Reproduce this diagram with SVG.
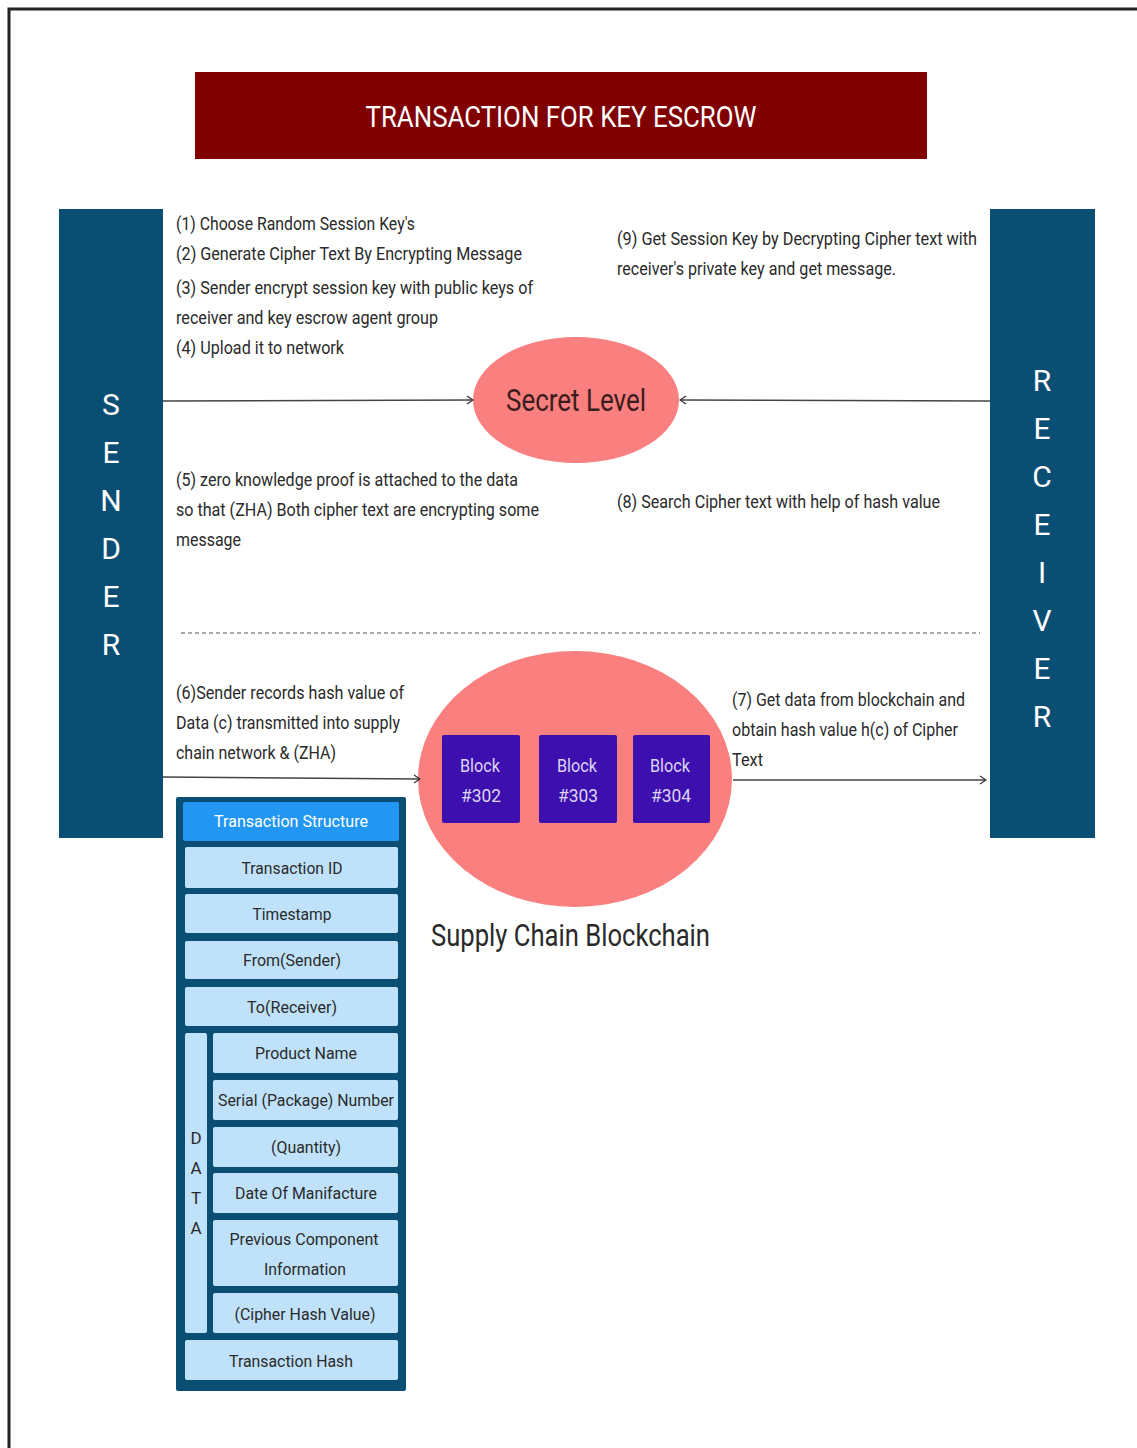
<svg xmlns="http://www.w3.org/2000/svg" width="1137" height="1448" viewBox="0 0 1137 1448">
<style>
.t{font-family:Roboto,"Liberation Sans",sans-serif;font-size:18px;fill:#2a2a2a}
.big{font-family:Roboto,"Liberation Sans",sans-serif;font-size:31px;fill:#2a2a2a}
.side{font-family:Roboto,"Liberation Sans",sans-serif;font-size:30px;fill:#ffffff;text-anchor:middle}
.row{fill:#bfe2fa}
.rt{font-family:Roboto,"Liberation Sans",sans-serif;font-size:17px;fill:#2a2a2a;text-anchor:middle}
.blk{fill:#3c0fae}
.bt{font-family:Roboto,"Liberation Sans",sans-serif;font-size:18px;fill:#ddd5f5;text-anchor:middle}
.conn{stroke:#444;stroke-width:1.6;fill:none}
</style>
<defs>
<marker id="arr" viewBox="0 0 8 10" refX="7" refY="5" markerWidth="8" markerHeight="10" markerUnits="userSpaceOnUse" orient="auto">
<path d="M1,1 L7,5 L1,9" fill="none" stroke="#333" stroke-width="1.3"/>
</marker>
</defs>
<rect width="1137" height="1448" fill="#ffffff"/>
<rect x="9" y="9" width="1140" height="1460" fill="none" stroke="#222" stroke-width="3"/>

<g id="title">
<rect x="195" y="72" width="732" height="87" fill="#800000"/>
<text x="561" y="127" font-family="Roboto,'Liberation Sans',sans-serif" font-size="30" fill="#ffffff" text-anchor="middle" textLength="391" lengthAdjust="spacingAndGlyphs">TRANSACTION FOR KEY ESCROW</text>
</g>

<g id="sender">
<rect x="59" y="209" width="104" height="629" fill="#0b4e74"/>
<text class="side" x="111" y="415">S</text>
<text class="side" x="111" y="463">E</text>
<text class="side" x="111" y="511">N</text>
<text class="side" x="111" y="559">D</text>
<text class="side" x="111" y="607">E</text>
<text class="side" x="111" y="655">R</text>
</g>

<g id="receiver">
<rect x="990" y="209" width="105" height="629" fill="#0b4e74"/>
<text class="side" x="1042" y="391">R</text>
<text class="side" x="1042" y="439">E</text>
<text class="side" x="1042" y="487">C</text>
<text class="side" x="1042" y="535">E</text>
<text class="side" x="1042" y="583">I</text>
<text class="side" x="1042" y="631">V</text>
<text class="side" x="1042" y="679">E</text>
<text class="side" x="1042" y="727">R</text>
</g>

<g id="steps-1-4">
<text class="t" x="176" y="230" textLength="239" lengthAdjust="spacingAndGlyphs">(1) Choose Random Session Key's</text>
<text class="t" x="176" y="260" textLength="346" lengthAdjust="spacingAndGlyphs">(2) Generate Cipher Text By Encrypting Message</text>
<text class="t" x="176" y="294" textLength="357" lengthAdjust="spacingAndGlyphs">(3) Sender encrypt session key with public keys of</text>
<text class="t" x="176" y="324" textLength="262" lengthAdjust="spacingAndGlyphs">receiver and key escrow agent group</text>
<text class="t" x="176" y="354" textLength="168" lengthAdjust="spacingAndGlyphs">(4) Upload it to network</text>
</g>

<g id="step-9">
<text class="t" x="617" y="245" textLength="360" lengthAdjust="spacingAndGlyphs">(9) Get Session Key by Decrypting Cipher text with</text>
<text class="t" x="617" y="275" textLength="279" lengthAdjust="spacingAndGlyphs">receiver's private key and get message.</text>
</g>

<g id="secret-level">
<ellipse cx="576" cy="400" rx="103" ry="63" fill="#fa7f7f"/>
<text class="big" x="576" y="411" text-anchor="middle" textLength="140" lengthAdjust="spacingAndGlyphs" style="fill:#3a1c1c">Secret Level</text>
</g>

<g id="step-5">
<text class="t" x="176" y="486" textLength="342" lengthAdjust="spacingAndGlyphs">(5) zero knowledge proof is attached to the data</text>
<text class="t" x="176" y="516" textLength="363" lengthAdjust="spacingAndGlyphs">so that (ZHA) Both cipher text are encrypting some</text>
<text class="t" x="176" y="546" textLength="65" lengthAdjust="spacingAndGlyphs">message</text>
</g>

<g id="step-8">
<text class="t" x="617" y="508" textLength="323" lengthAdjust="spacingAndGlyphs">(8) Search Cipher text with help of hash value</text>
</g>

<g id="step-6">
<text class="t" x="176" y="699" textLength="228" lengthAdjust="spacingAndGlyphs">(6)Sender records hash value of</text>
<text class="t" x="176" y="729" textLength="224" lengthAdjust="spacingAndGlyphs">Data (c) transmitted into supply</text>
<text class="t" x="176" y="759" textLength="160" lengthAdjust="spacingAndGlyphs">chain network &amp; (ZHA)</text>
</g>

<g id="step-7">
<text class="t" x="732" y="706" textLength="233" lengthAdjust="spacingAndGlyphs">(7) Get data from blockchain and</text>
<text class="t" x="732" y="736" textLength="226" lengthAdjust="spacingAndGlyphs">obtain hash value h(c) of Cipher</text>
<text class="t" x="732" y="766" textLength="31" lengthAdjust="spacingAndGlyphs">Text</text>
</g>

<g id="blockchain">
<ellipse cx="575" cy="779" rx="157" ry="128" fill="#fa7f7f"/>
<rect class="blk" x="442" y="735" width="78" height="88" rx="2"/>
<rect class="blk" x="539" y="735" width="78" height="88" rx="2"/>
<rect class="blk" x="633" y="735" width="77" height="88" rx="2"/>
<text class="bt" x="480" y="772" textLength="40" lengthAdjust="spacingAndGlyphs">Block</text>
<text class="bt" x="481" y="802" textLength="40" lengthAdjust="spacingAndGlyphs">#302</text>
<text class="bt" x="577" y="772" textLength="40" lengthAdjust="spacingAndGlyphs">Block</text>
<text class="bt" x="578" y="802" textLength="40" lengthAdjust="spacingAndGlyphs">#303</text>
<text class="bt" x="670" y="772" textLength="40" lengthAdjust="spacingAndGlyphs">Block</text>
<text class="bt" x="671" y="802" textLength="40" lengthAdjust="spacingAndGlyphs">#304</text>
<text class="big" x="431" y="946" textLength="279" lengthAdjust="spacingAndGlyphs">Supply Chain Blockchain</text>
</g>

<g id="transaction-structure">
<rect x="176" y="797" width="230" height="594" rx="2" fill="#0b4e74"/>
<rect x="183" y="802" width="216" height="39" rx="2" fill="#2196f3"/>
<text x="291" y="827" font-family="Roboto,'Liberation Sans',sans-serif" font-size="17" fill="#ffffff" text-anchor="middle" textLength="154" lengthAdjust="spacingAndGlyphs">Transaction Structure</text>
<rect class="row" x="185" y="847" width="213" height="41" rx="2"/>
<text class="rt" x="292" y="874" textLength="101" lengthAdjust="spacingAndGlyphs">Transaction ID</text>
<rect class="row" x="185" y="894" width="213" height="39" rx="2"/>
<text class="rt" x="292" y="920" textLength="79" lengthAdjust="spacingAndGlyphs">Timestamp</text>
<rect class="row" x="185" y="941" width="213" height="38" rx="2"/>
<text class="rt" x="292" y="966" textLength="98" lengthAdjust="spacingAndGlyphs">From(Sender)</text>
<rect class="row" x="185" y="987" width="213" height="39" rx="2"/>
<text class="rt" x="292" y="1013" textLength="90" lengthAdjust="spacingAndGlyphs">To(Receiver)</text>
<rect class="row" x="185" y="1033" width="22" height="300" rx="2"/>
<text class="rt" x="196" y="1144">D</text>
<text class="rt" x="196" y="1174">A</text>
<text class="rt" x="196" y="1204">T</text>
<text class="rt" x="196" y="1234">A</text>
<rect class="row" x="213" y="1033" width="185" height="40" rx="2"/>
<text class="rt" x="306" y="1059" textLength="102" lengthAdjust="spacingAndGlyphs">Product Name</text>
<rect class="row" x="213" y="1080" width="185" height="40" rx="2"/>
<text class="rt" x="306" y="1106" textLength="176" lengthAdjust="spacingAndGlyphs">Serial (Package) Number</text>
<rect class="row" x="213" y="1127" width="185" height="40" rx="2"/>
<text class="rt" x="306" y="1153" textLength="70" lengthAdjust="spacingAndGlyphs">(Quantity)</text>
<rect class="row" x="213" y="1173" width="185" height="40" rx="2"/>
<text class="rt" x="306" y="1199" textLength="142" lengthAdjust="spacingAndGlyphs">Date Of Manifacture</text>
<rect class="row" x="213" y="1220" width="185" height="66" rx="2"/>
<text class="rt" x="304" y="1245" textLength="149" lengthAdjust="spacingAndGlyphs">Previous Component</text>
<text class="rt" x="305" y="1275" textLength="82" lengthAdjust="spacingAndGlyphs">Information</text>
<rect class="row" x="213" y="1293" width="185" height="40" rx="2"/>
<text class="rt" x="305" y="1320" textLength="141" lengthAdjust="spacingAndGlyphs">(Cipher Hash Value)</text>
<rect class="row" x="185" y="1340" width="213" height="40" rx="2"/>
<text class="rt" x="291" y="1367" textLength="124" lengthAdjust="spacingAndGlyphs">Transaction Hash</text>
</g>

<g id="connectors">
<line class="conn" x1="163" y1="401" x2="473" y2="400" marker-end="url(#arr)"/>
<line class="conn" x1="990" y1="401" x2="680" y2="400" marker-end="url(#arr)"/>
<line x1="181" y1="633" x2="980" y2="633" stroke="#555" stroke-width="1.2" stroke-dasharray="4 3"/>
<line class="conn" x1="163" y1="777" x2="420" y2="779" marker-end="url(#arr)"/>
<line class="conn" x1="733" y1="780" x2="986" y2="780" marker-end="url(#arr)"/>
</g>
</svg>
